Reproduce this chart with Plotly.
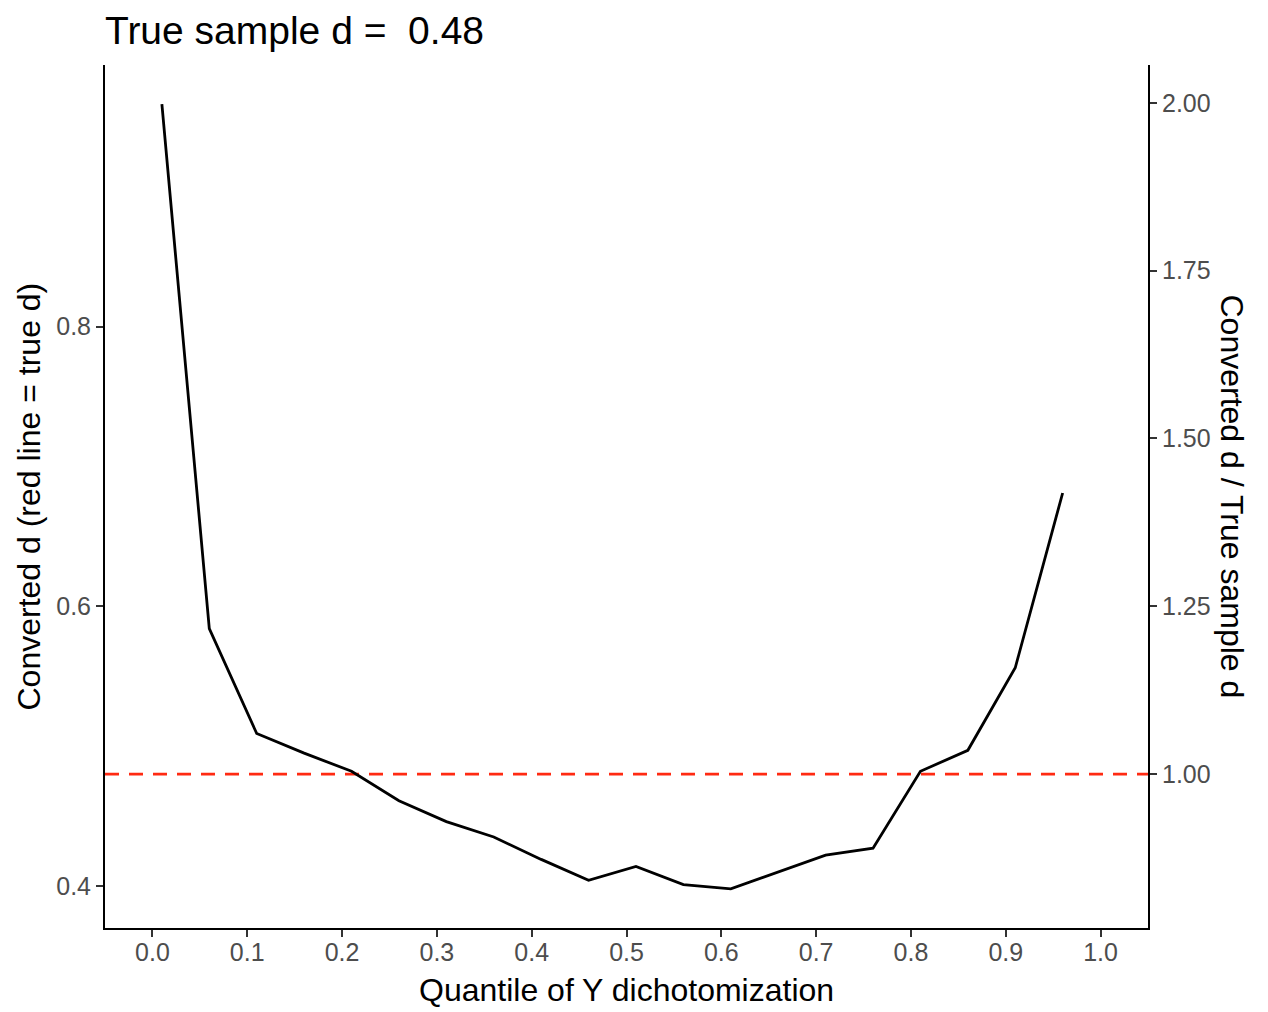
import plotly.graph_objects as go

# Values
quantiles = [0.01, 0.06, 0.11, 0.16, 0.21, 0.26, 0.31, 0.36, 0.41, 0.46,
             0.51, 0.56, 0.61, 0.66, 0.71, 0.76, 0.81, 0.86, 0.91, 0.96]
converted_d = [0.959, 0.584, 0.509, 0.495, 0.482, 0.461, 0.446, 0.435, 0.419, 0.404,
               0.414, 0.401, 0.398, 0.410, 0.422, 0.427, 0.482, 0.497, 0.556, 0.681]
true_d = 0.48
x_ticks = [0.0, 0.1, 0.2, 0.3, 0.4, 0.5, 0.6, 0.7, 0.8, 0.9, 1.0]
y_ticks = [0.4, 0.6, 0.8]
ratio_ticks = [1.00, 1.25, 1.50, 1.75, 2.00]

ratio = [v / true_d for v in converted_d]

# ggplot style 5% expansion
span = max(converted_d) - min(converted_d)
y_lo = min(converted_d) - 0.05 * span
y_hi = max(converted_d) + 0.05 * span

FONT = "Liberation Sans, Arial, sans-serif"
TICK_COL = "#4D4D4D"

fig = go.Figure()

# red dashed reference line at the true d
fig.add_trace(go.Scatter(x=[-0.05, 1.05], y=[true_d, true_d], mode="lines",
                         line=dict(color="#FF2A12", width=2.8, dash="14px,10px"),
                         hoverinfo="skip", showlegend=False))

fig.add_trace(go.Scatter(x=quantiles, y=converted_d, mode="lines",
                         line=dict(color="black", width=2.8), showlegend=False))

# invisible trace so the secondary axis is drawn
fig.add_trace(go.Scatter(x=quantiles, y=ratio, mode="lines", yaxis="y2",
                         line=dict(color="rgba(0,0,0,0)", width=0),
                         hoverinfo="skip", showlegend=False))

axis_common = dict(showgrid=False, zeroline=False, showline=True, linecolor="black",
                   linewidth=2, ticks="outside", ticklen=7, tickwidth=2, tickcolor="#333333",
                   tickfont=dict(family=FONT, size=25, color=TICK_COL))

# page body has an 8px margin, so the figure is made 8px smaller
fig.update_layout(
    width=1260, height=1004,
    margin=dict(l=97, r=120, t=57, b=84),
    paper_bgcolor="white", plot_bgcolor="white",
    font=dict(family=FONT),
    xaxis=dict(range=[-0.05, 1.05], tickvals=x_ticks, ticklabelstandoff=-6,
               ticktext=[f"{t:.1f}" for t in x_ticks], **axis_common),
    yaxis=dict(range=[y_lo, y_hi], tickvals=y_ticks,
               ticktext=[f"{t:.1f}" for t in y_ticks], **axis_common),
    yaxis2=dict(range=[y_lo / true_d, y_hi / true_d], overlaying="y", side="right",
                tickvals=ratio_ticks, ticktext=[f"{t:.2f}" for t in ratio_ticks],
                **axis_common),
    title=dict(text=f"True sample d =  {true_d}", x=97 / 1260, xanchor="left",
               xref="container", y=1 - 22 / 1004, yanchor="middle", yref="container",
               font=dict(family=FONT, size=39, color="black")),
    annotations=[
        dict(text="Quantile of Y dichotomization", xref="paper", yref="paper",
             x=0.5, y=-82 / 863, xanchor="center", yanchor="bottom", showarrow=False,
             font=dict(family=FONT, size=32, color="black")),
        dict(text="Converted d (red line = true d)", xref="paper", yref="paper",
             x=-77 / 1043, y=0.5, xanchor="center", yanchor="middle", textangle=-90,
             showarrow=False, font=dict(family=FONT, size=32, color="black")),
        dict(text="Converted d / True sample d", xref="paper", yref="paper",
             x=1 + 84 / 1043, y=0.5, xanchor="center", yanchor="middle", textangle=90,
             showarrow=False, font=dict(family=FONT, size=32, color="black")),
    ],
)

fig.write_html("out.html")
